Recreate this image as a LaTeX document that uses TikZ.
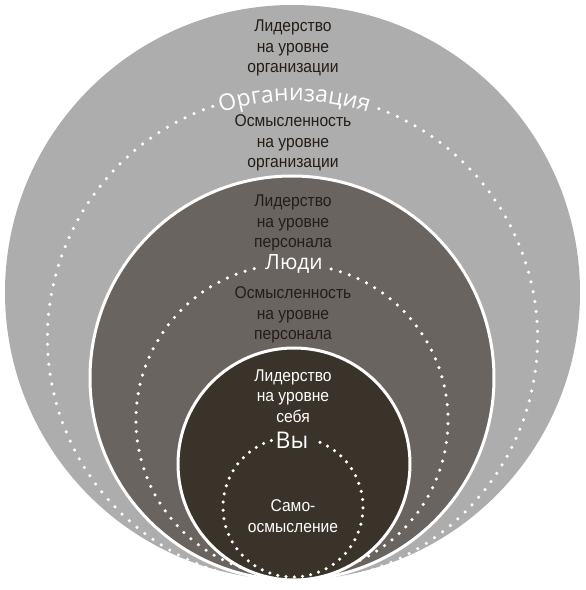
\documentclass[tikz,border=0pt]{standalone}
\usepackage{fontspec}
\setmainfont{Liberation Sans}[FakeStretch=0.92]
\newfontfamily\labelfont{Open Sans}
\usetikzlibrary{decorations.text}
\definecolor{outerc}{HTML}{ADADAD}
\definecolor{middlec}{HTML}{6A6461}
\definecolor{innerc}{HTML}{3A3329}
\definecolor{txtc}{HTML}{241D16}
\tikzset{
  ring/.style={line width=3pt, draw=white},
  dotline/.style={draw=white, line width=3.5pt, line cap=round, dash pattern=on 0pt off #1},
  body/.style={align=center, font=\fontsize{17}{20.3}\selectfont, inner sep=0pt},
  lbl/.style={font=\labelfont\fontsize{21}{24}\selectfont, text=white, inner sep=0pt}
}
\begin{document}
\begin{tikzpicture}[x=1pt,y=1pt]
\useasboundingbox (0,0) rectangle (586,590);
% outer
\fill[outerc] (292.5,297.5) circle[radius=287.5];
\draw[dotline=10pt] (292.5,252) ++(109:245) arc[start angle=109, end angle=431, radius=245];
\path[decorate, decoration={text along path, text align=center,
  text={|\color{white}\labelfont\fontsize{23}{25}\selectfont|Организация}}]
  (294.5,252) ++(150:237) arc[start angle=150, end angle=30, radius=237];
% middle
\filldraw[fill=middlec, ring] (292,212) circle[radius=202];
\draw[dotline=9.5pt] (292,170) ++(104:156) arc[start angle=104, end angle=436, radius=156];
% inner
\filldraw[fill=innerc, ring] (294,126) circle[radius=116];
\draw[dotline=8.3pt] (293,83) ++(108:70) arc[start angle=108, end angle=432, radius=70];
% texts
\node[body, text=txtc] (t1) at (293,542) {Лидерство\\на уровне\\организации};
\node[body, text=txtc] (t2) at (293,447) {Осмысленность\\на уровне\\организации};
\node[body, text=txtc] (t3) at (293,367) {Лидерство\\на уровне\\персонала};
\node[body, text=txtc] (t4) at (293,275) {Осмысленность\\на уровне\\персонала};
\node[body, text=white] (t5) at (293,194) {Лидерство\\на уровне\\себя};
\node[body, text=white] (t6) at (293,74) {Само-\\осмысление};
\node[lbl] (l2) at (294,326) {Люди};
\node[lbl, font=\labelfont\fontsize{23}{26}\selectfont] (l3) at (292,150) {Вы};
\end{tikzpicture}
\end{document}
